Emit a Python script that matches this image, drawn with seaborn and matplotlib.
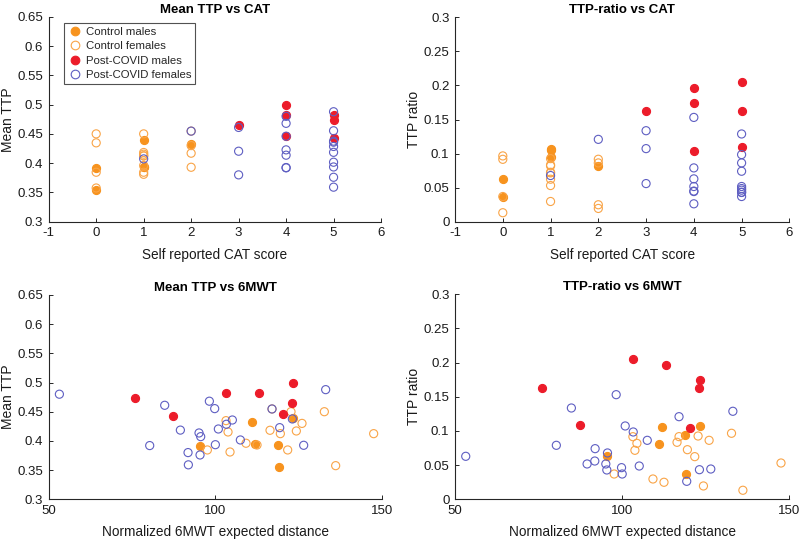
import numpy as np
import pandas as pd
import matplotlib
matplotlib.use("Agg")
import matplotlib.pyplot as plt
import seaborn as sns
from matplotlib.ticker import FormatStrFormatter
from matplotlib.lines import Line2D

# ---------------- data (one entry per subject) ----------------
# Control males
cm_cat   = [0, 0, 1, 1, 1, 2]
cm_mwt   = [95.4, 119.2, 123.3, 118.8, 112.0, 110.9]
cm_mean  = [0.392, 0.355, 0.4387, 0.3936, 0.394, 0.433]
cm_ratio = [0.0629, 0.0366, 0.1068, 0.0946, 0.1058, 0.0814]

# Control females
cf_cat   = [0, 0, 0, 0, 1, 1, 1, 1, 1, 1, 1, 1, 2, 2, 2, 2]
cf_mwt   = [132.7, 103.2, 136.1, 97.6, 122.7, 103.8, 104.4, 109.2,
            116.4, 119.5, 121.7, 147.5, 117.0, 126.0, 112.5, 124.3]
cf_mean  = [0.450, 0.4347, 0.3576, 0.3845, 0.450, 0.4153, 0.381, 0.396,
            0.4182, 0.4124, 0.3845, 0.4124, 0.4547, 0.430, 0.393, 0.417]
cf_ratio = [0.0966, 0.0916, 0.0132, 0.037, 0.0926, 0.0717, 0.0819, 0.0297,
            0.0834, 0.0726, 0.0624, 0.0531, 0.0917, 0.0863, 0.0249, 0.0195]

# Post-COVID males
pm_cat   = [3, 4, 4, 4, 5, 5, 5]
pm_mwt   = [122.9, 123.2, 113.0, 120.3, 103.1, 76.0, 87.4]
pm_mean  = [0.4655, 0.500, 0.4816, 0.4467, 0.482, 0.474, 0.4427]
pm_ratio = [0.1629, 0.1746, 0.1961, 0.1043, 0.2058, 0.1624, 0.1092]

# Post-COVID females (one subject without 6MWT value)
pf_cat   = [1, 2, 3, 3, 3,
            4, 4, 4, 4, 4, 4, 4,
            5, 5, 5, 5, 5, 5, 5, 5, 5, 5]
pf_mwt   = [95.6, 117.0, 84.8, 100.9, 91.8,
            98.2, 53.2, 80.3, 119.3, 95.1, 126.5, np.nan,
            133.1, 103.3, 107.5, 91.9, 89.5, 95.4, 99.8, 100.0, 105.1, 123.1]
pf_mean  = [0.4073, 0.4547, 0.461, 0.4204, 0.380,
            0.468, 0.480, 0.392, 0.4227, 0.4136, 0.3925, 0.446,
            0.4878, 0.4285, 0.4016, 0.359, 0.4185, 0.3759, 0.4553, 0.3935, 0.4358, 0.4376]
pf_ratio = [0.0678, 0.1209, 0.1336, 0.1073, 0.056,
            0.1531, 0.0629, 0.079, 0.0263, 0.0517, 0.0443, 0.045,
            0.1288, 0.0985, 0.0863, 0.0741, 0.0517, 0.0429, 0.0463, 0.037, 0.0487, 0.0433]

group_names = ["Control males", "Control females", "Post-COVID males", "Post-COVID females"]

ORANGE = "#F7931E"
ORANGE_OPEN = "#F9A447"
RED = "#EC1C2A"
BLUE = "#5E5EC2"

frames = []
for name, cat, mwt, mean, ratio in [
    (group_names[0], cm_cat, cm_mwt, cm_mean, cm_ratio),
    (group_names[1], cf_cat, cf_mwt, cf_mean, cf_ratio),
    (group_names[2], pm_cat, pm_mwt, pm_mean, pm_ratio),
    (group_names[3], pf_cat, pf_mwt, pf_mean, pf_ratio),
]:
    frames.append(pd.DataFrame({"group": name, "cat": cat, "mwt": mwt,
                                "mean": mean, "ratio": ratio}))
df = pd.concat(frames, ignore_index=True)

styles = {
    group_names[0]: dict(facecolor=ORANGE, edgecolor=ORANGE),
    group_names[1]: dict(facecolor="none", edgecolor=ORANGE_OPEN),
    group_names[2]: dict(facecolor=RED, edgecolor=RED),
    group_names[3]: dict(facecolor="none", edgecolor=BLUE),
}

sns.set_theme(style="white")
plt.rcParams["font.family"] = ["Liberation Sans", "DejaVu Sans"]
plt.rcParams["axes.unicode_minus"] = False

fig = plt.figure(figsize=(8, 5.4), dpi=100)
ax_tl = fig.add_axes([0.0609, 0.5894, 0.4154, 0.3796])
ax_tr = fig.add_axes([0.5688, 0.5894, 0.4179, 0.3785])
ax_bl = fig.add_axes([0.0609, 0.0754, 0.4166, 0.3784])
ax_br = fig.add_axes([0.5688, 0.0754, 0.4179, 0.3796])

panels = [
    (ax_tl, "cat", "mean", "Mean TTP vs CAT", "Self reported CAT score", "Mean TTP"),
    (ax_tr, "cat", "ratio", "TTP-ratio vs CAT", "Self reported CAT score", "TTP ratio"),
    (ax_bl, "mwt", "mean", "Mean TTP vs 6MWT", "Normalized 6MWT expected distance", "Mean TTP"),
    (ax_br, "mwt", "ratio", "TTP-ratio vs 6MWT", "Normalized 6MWT expected distance", "TTP ratio"),
]

AXC = "#262626"
for ax, xv, yv, title, xl, yl in panels:
    for g in group_names:
        sub = df[df["group"] == g].dropna(subset=[xv, yv])
        sns.scatterplot(data=sub, x=xv, y=yv, ax=ax, marker="o", s=34,
                        linewidth=0.8, legend=False, **styles[g])
    if xv == "cat":
        ax.set_xlim(-1, 6)
        ax.set_xticks(range(-1, 7))
    else:
        ax.set_xlim(50, 150)
        ax.set_xticks([50, 100, 150])
    if yv == "mean":
        ax.set_ylim(0.3, 0.65)
        ax.set_yticks(np.arange(0.3, 0.651, 0.05))
    else:
        ax.set_ylim(0, 0.3)
        ax.set_yticks(np.arange(0, 0.301, 0.05))
    ax.yaxis.set_major_formatter(FormatStrFormatter("%g"))
    ax.set_title(title, fontsize=9.5, fontweight="bold", color="black", pad=3)
    ax.set_xlabel(xl, fontsize=9.8, color="#1a1a1a", labelpad=6)
    ax.set_ylabel(yl, fontsize=10, color="#1a1a1a", labelpad=2)
    for s in ["top", "right"]:
        ax.spines[s].set_visible(False)
    for s in ["left", "bottom"]:
        ax.spines[s].set_color(AXC)
        ax.spines[s].set_linewidth(0.8)
    ax.tick_params(direction="in", length=3, width=0.7, color=AXC,
                   labelsize=9.5, labelcolor="#1a1a1a", pad=4,
                   left=True, bottom=True)
    ax.set_facecolor("white")

handles = [
    Line2D([], [], marker="o", linestyle="none", markersize=6.2,
           markerfacecolor=ORANGE, markeredgecolor=ORANGE, markeredgewidth=0.8),
    Line2D([], [], marker="o", linestyle="none", markersize=6.2,
           markerfacecolor="none", markeredgecolor=ORANGE_OPEN, markeredgewidth=0.8),
    Line2D([], [], marker="o", linestyle="none", markersize=6.2,
           markerfacecolor=RED, markeredgecolor=RED, markeredgewidth=0.8),
    Line2D([], [], marker="o", linestyle="none", markersize=6.2,
           markerfacecolor="none", markeredgecolor=BLUE, markeredgewidth=0.8),
]
leg = ax_tl.legend(handles, group_names, loc="upper left",
                   bbox_to_anchor=(0.046, 0.97), borderaxespad=0,
                   fontsize=8.2, frameon=True, fancybox=False,
                   edgecolor="#262626", handletextpad=0.35, handlelength=1.2,
                   labelspacing=0.38, borderpad=0.35)
leg.get_frame().set_linewidth(0.8)

fig.savefig("out.png", dpi=100, facecolor="white")
